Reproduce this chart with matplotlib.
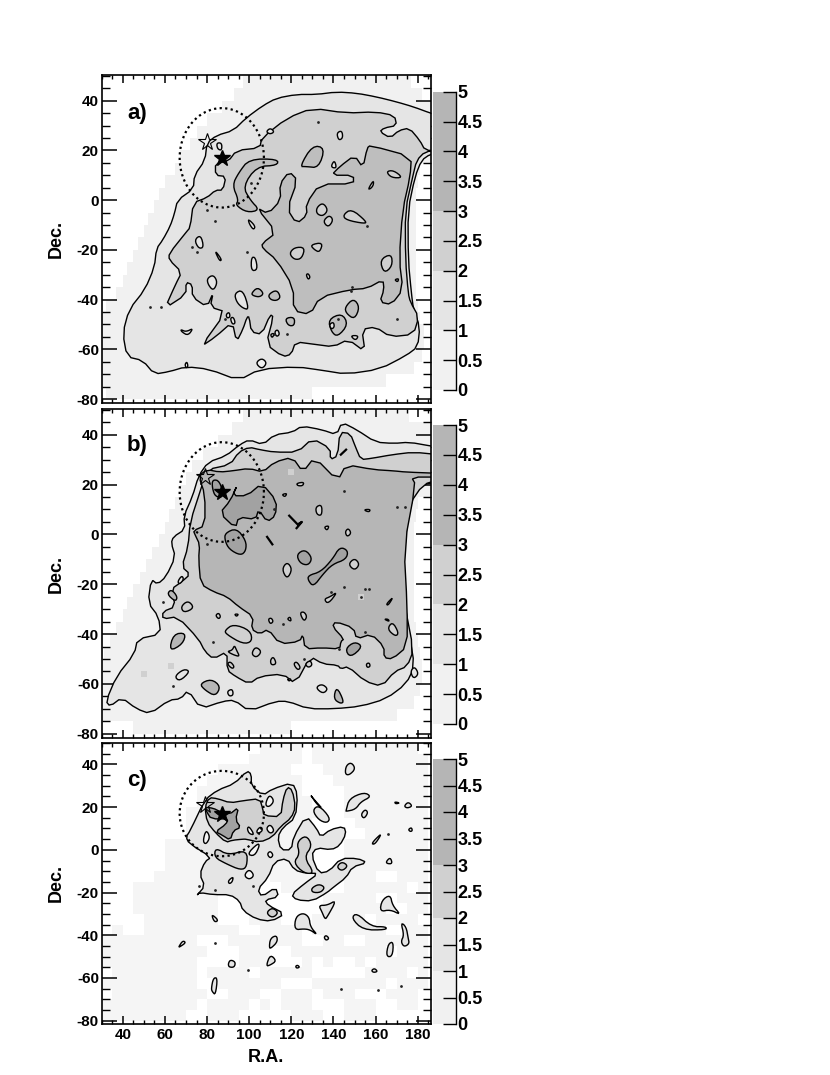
import numpy as np
import matplotlib
matplotlib.use('Agg')
import matplotlib.pyplot as plt
from matplotlib.ticker import MultipleLocator

plt.rcParams['font.family'] = ['Liberation Sans', 'DejaVu Sans']
plt.rcParams['font.weight'] = 'bold'
plt.rcParams['axes.unicode_minus'] = False

C0 = '#f1f1f1'
C0C = '#f5f5f5'
C1 = '#e5e5e5'
C2 = '#d0d0d0'
C3A = '#bebebe'
C3 = '#b6b6b6'
C4 = '#a2a2a2'

cbar_ticks = [0, 0.5, 1, 1.5, 2, 2.5, 3, 3.5, 4, 4.5, 5]
cbar_labels = ['0', '0.5', '1', '1.5', '2', '2.5', '3', '3.5', '4', '4.5', '5']
cbar_bands = [0, 1, 2, 3, 5]
cbar_colors = [C0, C1, C2, '#b5b5b5']

pale_dec = [47.5, 42.5, 37.5, 32.5, 27.5, 22.5, 17.5, 12.5, 7.5, 2.5, -2.5, -7.5, -12.5, -17.5,
            -22.5, -27.5, -32.5, -37.5, -42.5, -47.5, -52.5, -57.5, -62.5, -67.5, -72.5, -77.5]
pale_a_left = [97, 93, 87, 80, 75, 72, 67, 65, 60, 57, 55, 52, 50, 47, 45, 42, 40, 37, 32, 30, 30, 30, 30, 30, 30, 32]
pale_a_right = [177, 182, 186, 186, 186, 186, 186, 181, 180, 179, 179, 179, 179, 179, 179, 179, 179, 179, 180, 181, 183, 183, 182, 178, 165, 130]
pale_b_left = [97, 92, 85, 78, 73, 70, 67, 65, 62, 60, 57, 54, 51, 48, 45, 42, 40, 37, 34, 31, 30, 30, 30, 30, 30, 45]
pale_b_right = [176, 186, 186, 186, 186, 186, 186, 180, 179, 178, 178, 178, 178, 178, 178, 178, 178, 179, 180, 181, 182, 182, 181, 178, 170, 120]

# rows from dec 47.5 down, columns from ra 30 in 5 degree cells
pale_c = [
    "...............####.##########.",
    "..............#####.###########",
    "...........#######...##########",
    "..........#########...#########",
    ".........##########....########",
    ".........###########...########",
    "........#############..########",
    "........############....#######",
    "........############.....######",
    "......##############...########",
    "......#############....########",
    "......#######..####....########",
    ".....#########..#####..###..###",
    "...#########.....###...######.#",
    "...########..#.......#####..###",
    "...########...#......######..##",
    "....#######...###...#####.####.",
    ".#..#########..####.#######..##",
    "#########...#######..##..######",
    "##########...###..#########.###",
    "#########....###...#.#..#.#####",
    ".########.####.#####.....####.#",
    "#########..######...#######.###",
    ".#########..###..###.###...###.",
    "#########.####.#.###...###..##.",
    "########..###.....###..###.....",
]

letter_dec = [35, 35.5, 32.7]
circle_ra = 87
circle_dec = 17
circle_radius = 20
star_filled = (87, 17)
star_open_a = (80, 23.5)
star_open_b = (79, 23)
star_open_c = (79, 21)

# panel a contours
a_level1 = [(190, 34), (186, 35), (178, 37.5), (170, 39.5), (160.5, 41.5), (151, 43), (141.5, 43.5), (132, 42.5), (122.5, 42.5),
            (113, 41), (106.5, 38), (98.5, 33), (92.5, 28), (84.5, 26), (80, 23), (79, 16), (74, 10), (73.5, 4.5),
            (66, 0), (64.5, -5.5), (62.5, -10.5), (59, -16), (56, -19.5), (55, -27), (50.5, -36), (43, -44),
            (40, -53.5), (42, -63), (49.5, -64.5), (55, -70), (62, -69), (70, -67), (81, -68), (95, -72.5),
            (105, -68), (122.5, -67), (135, -68.5), (146, -70), (162, -68), (174.5, -62.5), (180, -59), (181, -51),
            (178, -44), (177, -37.5), (175.5, -24), (175.4, -4), (178.7, 9.4), (181.8, 16), (186, 18.5), (190, 18.7)]
a_level2 = [(190, 20), (183.5, 20), (181, 24), (176, 29), (171, 28), (167, 25), (162, 27.5), (164, 29), (170, 30),
            (169, 34), (160, 35.5), (146, 35), (130, 37), (118, 33), (106, 25), (105, 21), (94, 20), (90, 15.5),
            (84, 15), (84, 10), (89, 9.5), (87.5, 4), (84, 4), (80, 1), (73.5, -1), (72, -11), (70, -13), (62, -21.5),
            (62, -24), (68, -29), (65, -34), (60, -43.5), (70, -38), (70, -33), (73, -34), (73, -39), (80, -43),
            (83, -37), (81.5, -43), (89, -45), (77, -59), (84, -55), (92, -49), (94, -57), (97, -52), (99, -47),
            (100, -47), (101, -53), (106, -54), (110, -46), (111.5, -47), (108, -58), (116, -63), (120, -62),
            (122, -57), (131, -58), (140, -59), (147, -56), (155, -61), (153.5, -52), (160, -51), (167, -55),
            (178, -54), (180.5, -47), (176.5, -41), (175.5, -37.5), (174.2, -24), (174.1, -4), (177.6, 9.4), (179.5, 16), (183.5, 19.5)]
a_level3 = [[(177, 17.5), (157.5, 22), (156, 21), (154, 13), (150, 18), (143, 13.5), (139, 10), (149.5, 10), (149.5, 6.5),
             (133.5, 6.5), (127, -1.5), (127.5, -6), (122.5, -9.5), (118, -3.5), (123, 8), (119, 11.5), (114.5, 6.5),
             (115, 0), (109, -5.5), (103.5, -3), (113, -13), (106, -17.5), (106.5, -19.5), (113, -24), (121, -35),
             (121, -44.5), (129, -46), (133.5, -39), (148, -36), (156, -35.5), (163.5, -32), (164, -36), (162, -41),
             (167.5, -42), (173, -36), (171.2, -24), (172.8, -4), (176.4, 9.4)],
            [(113.5, 16.5), (100, 16.5), (95, 11), (92, 6), (95, 0), (93.5, -2), (99, -5), (105, -4), (100.5, 0),
             (97, 5.5), (103.5, 13.5), (113.5, 14)],
            [(124, 13.5), (130, 22), (136, 21), (133, 13), (127, 13.5)],
            [(101, -37.5), (104, -35), (107, -37.5), (105, -39), (102, -38.5)],
            [(109, -38), (113, -36), (115, -39), (113, -40.5), (110, -40)],
            [(117, -47.5), (121.5, -47), (121.5, -50.5), (118.5, -50.5)],
            [(145.5, -43), (149.5, -39.5), (152.5, -43), (150, -48), (146, -45.5)],
            [(137.5, -48), (144, -45.5), (147, -50), (142, -55), (139, -53)]]
a_holes3 = [[(162, -24), (167.5, -21.5), (168, -26.5), (164, -29.5)],
            [(132, -3), (135, -1), (137.5, -4), (135, -6.5), (132, -5.5)],
            [(135, -8.5), (138, -6), (140, -8), (137.5, -11)],
            [(144.5, -6), (148.5, -3.5), (155.5, -8.5), (155, -9.5), (146, -8)],
            [(119, -21.5), (121.5, -19), (126.5, -19), (125, -23.5), (121.5, -24)],
            [(129, -18), (135, -17), (133.5, -21), (131, -20)],
            [(165, 11.5), (168.5, 12), (173, 9), (167.5, 9)],
            [(156.5, 4.5), (159, 8), (159, 6), (157.5, 4.5)],
            [(127, -30), (128, -29.5), (129, -31), (128, -32)],
            [(169, -32), (171, -31.5), (170.5, -33)]]
a_holes2 = [[(108, 27.5), (110, 29), (112, 27.5), (110, 26.5)],
            [(141.5, 27), (144, 28), (144.5, 25), (142.5, 24)],
            [(80, -31.5), (83, -30), (85, -33), (83, -36.5), (80.5, -34)],
            [(93, -37.5), (97, -36), (100, -44), (97, -43.5), (94, -41)],
            [(101, -23), (103, -23), (104, -28), (101, -28.5)],
            [(74, -16), (77, -14), (78.5, -19), (76, -19.5)],
            [(84, -21), (84.5, -21), (87, -24), (86, -24.5)],
            [(99.5, -7.5), (103, -10.5), (102, -12), (100, -9.5)],
            [(67.5, -52), (70, -53), (73.5, -51.5), (71, -54.5), (68, -53)],
            [(89, -46), (90.5, -45), (91, -47), (89.5, -47.5)],
            [(91, -47.5), (92.5, -47), (93.5, -49.5), (92, -50)],
            [(84.5, 23), (87, 23), (87, 20), (85, 20.5)],
            [(139, 14), (140.5, 16), (141.5, 13), (139.5, 13)],
            [(148, -54.5), (152, -54.5), (150.5, -56.5)],
            [(112, -53), (113.5, -52), (114.5, -54), (113, -55)],
            [(110, -54), (112, -53.5), (111, -55.5)],
            [(138, -50), (140, -49), (140.5, -51), (139, -52)]]
a_holes1 = [[(103, -65.5), (106, -63.5), (108.5, -65.5), (106, -68)],
            [(69.5, -66), (70.5, -65), (71, -67), (70, -67.5)]]
a_dots = [(132.5, 31.5), (101, 7), (80, -4), (84, -8.5), (73, -19), (75, -21), (99, -21), (58, -43), (53, -43),
          (156, -10.5), (142, -48), (149, -35), (170, -48), (88.5, -48), (118, -54), (112, -54), (148.5, -36.5)]

# panel b contours
b_level1 = [(190, 35), (186, 35.5), (176, 37), (168.5, 36.5), (160, 37), (151, 42), (144, 45), (141.5, 40), (134.5, 42), (125, 43.5),
            (120.5, 41), (112, 40), (106.5, 36), (100, 38), (95.5, 36), (89, 31.5), (80.5, 29), (76, 23.5), (73, 15),
            (69, 7.5), (69.5, 2), (64, -1), (63, -3.5), (65, -9), (60.5, -17), (56.5, -20), (53.5, -18), (52, -27.5),
            (57, -33), (58, -40), (47, -42), (45.5, -48), (37, -57), (32, -67), (34, -69), (39.5, -65.5), (46.5, -70),
            (53, -72), (62, -66.5), (67.5, -66), (71, -62.5), (77, -70), (87.5, -67), (93, -66.5), (100, -71),
            (112.5, -67), (118.5, -67), (128, -70), (140.5, -70), (153, -69), (165, -66), (174.5, -60), (178.5, -53),
            (176, -40), (173, -29), (171, -18), (172, -4), (174.5, 13.5), (182, 20), (190, 21)]
b_level2 = [(190, 32), (178, 33), (168, 32), (158, 30.5), (153, 30), (150.5, 35), (148, 40.5), (143, 41), (142, 31.5),
            (138.5, 30), (138.5, 34.5), (130, 38.5), (123, 33), (112, 33), (105, 34), (100, 35), (95, 33), (91, 28),
            (80, 26), (77, 18), (72, 5), (71, -5), (68, -13), (72, -16), (68, -19), (63, -22), (65, -29), (59, -31),
            (59, -34), (66, -33), (76, -42), (79, -47), (83, -50), (89.5, -47), (89.5, -54.5), (93.5, -57), (100, -60),
            (105, -57), (116, -56), (122, -60), (129, -49), (135, -52), (142, -52.5), (143.5, -54), (147, -53),
            (155, -59), (163, -61), (169, -55), (175, -53), (178, -46.5), (174, -29), (172.5, -20), (174, -4), (176, 12),
            (182.5, 20), (190, 22)]
b_level3 = [(179, 20), (173.5, -5), (175, -29), (175, -45), (168, -50), (164, -49.5), (164, -45), (158, -40), (151, -42),
            (149.5, -37.5), (141, -35), (139.5, -37), (145, -42), (143.5, -43), (143, -46), (134.5, -45.5), (126.5, -46),
            (125.5, -40), (124, -43), (114.5, -44), (109, -38), (105, -40), (101, -38), (102, -33), (95, -29), (89.5, -25),
            (83, -23), (77, -20), (76, -10), (76.5, -4), (74.5, -0.5), (73.5, 1.5), (79, 3.5), (79, 16), (76, 23.5),
            (80, 26), (86, 25), (92, 25.5), (100, 26.5), (106.5, 25), (112, 29), (120.5, 31), (125.5, 25), (131, 31),
            (142, 21.5), (146, 28), (159, 26), (168.5, 25.5), (174.5, 25), (190, 24.5), (190, 23), (177, 23)]
b_level4 = [[(86, 8.5), (91, 13.5), (94.5, 20), (92, 15.5), (99, 15.5), (106, 20.5), (113, 13.5), (112.5, 7.5), (108.5, 5),
             (104.5, 10), (103, 6), (95, 7), (93.5, 2.5)],
            [(82.5, 22), (86, 21.5), (88, 15), (84, 15), (82.5, 18.5)],
            [(88.5, 0.5), (94, 2.5), (98.5, -2.5), (98.5, -6.5), (96, -8.5), (90.5, -6), (88.5, -2.5)],
            [(122.5, -8), (126.5, -6), (130, -9.5), (128, -12.5), (124, -11.5)],
            [(128, -16.5), (134, -15), (139.5, -10), (143, -5), (147, -6.5), (146, -10), (139.5, -12), (135, -16), (130.5, -21), (128, -18.5)],
            [(145.5, -46), (150, -43), (154, -45), (148, -49.5)]]
b_level3_extra = [[(62, -47), (64, -40), (70, -39.5), (68.5, -44)],
                  [(76.5, -60), (82, -58), (86.5, -61), (84, -65), (79, -62.5)],
                  [(140, -66), (141.5, -61), (145, -67), (143.5, -68)],
                  [(61, -24), (63, -22), (66, -25), (65, -27)]]
b_holes3 = [[(122.5, 20.5), (126, 21), (125.5, 19.5), (123, 19.5)],
            [(115.5, 16), (118, 16.5), (117, 15)],
            [(131.5, 11), (134.5, 12), (134.5, 7.5), (132, 8)],
            [(155, 10), (157.5, 10), (157, 9), (155, 9.5)],
            [(135.5, 3), (138, 3.5), (137, 1.5)],
            [(145.5, 1), (147, 2.5), (148.5, 0.5), (146.5, -1)],
            [(115.5, -14), (118, -11), (120.5, -14), (118, -18)],
            [(147, -12), (150, -9.5), (152.5, -12), (150, -14.5)],
            [(135.5, -26), (138.5, -25), (142, -23), (137.5, -28)],
            [(165, -28), (168.5, -25), (166, -28.5)],
            [(165.5, -38), (168, -35), (171, -39.5), (169.5, -41)],
            [(164, -34), (166, -34), (166.5, -35)],
            [(67.5, -29), (71, -26.5), (74, -29.5), (69, -31.5)],
            [(88.5, -38.5), (92.5, -36), (100.5, -38.5), (101.5, -43), (97, -44), (89, -40)],
            [(101, -48), (103, -45), (106, -47), (103.5, -49.5)],
            [(110, -50.5), (111.5, -49), (113, -52), (110.5, -52.5)],
            [(89.5, -52), (91, -51), (93, -53), (92, -54)],
            [(121, -52), (122.5, -51), (124.5, -53.5), (123, -54.5)],
            [(126.5, -52), (129, -50.5), (130, -52.5), (128, -53.5)],
            [(84, -32.5), (85.5, -31.5), (86.5, -33), (85.5, -34)],
            [(93, -32), (95, -32), (94, -33)],
            [(124, -31.5), (126, -31), (127.5, -33), (126, -35)],
            [(109, -34), (110.5, -33.5), (111.5, -35), (110, -36)],
            [(118, -34), (119.5, -33), (120, -35)],
            [(89.5, -47), (92, -46.5), (93, -44.5), (94, -46.5), (95.5, -49), (93, -48.5)],
            [(155.5, -52), (157, -51.5), (157.5, -53), (156, -53.5)]]
b_holes2 = [[(64.5, -57), (69, -54), (72, -55), (67, -59)],
            [(89.5, -63), (92, -62), (92.5, -64.5), (90.5, -65)],
            [(131.5, -61.5), (134.5, -60), (137.5, -62), (135, -64)],
            [(176.5, -55), (178.5, -53), (180.5, -56), (178, -58)],
            [(118, -58), (120, -58), (119, -59)],
            [(66, -19), (68, -16.5), (69, -18), (67, -20)]]
b_slashes = [[(119, 7.5), (123, 4), (125, 5), (122.5, 2.5)],
             [(108.5, -1), (111, -4)],
             [(143.5, 32), (146, 34)]]
b_dots = [(116, -36), (145, 17.5), (112, 10), (155, -39), (80, -4), (142.5, -46), (126, -50), (64, -61), (83, -43),
          (174, 11), (170, 11), (145, -21), (155, -22), (157, -22), (153, -25), (139, -23), (59, -27)]
b_grey_cells = [(50, -56), (63, -53), (75, -21), (120, 25), (153, -25), (83, -43)]

# panel c contours
c_level1 = [[(72, 9), (79, 23.5), (85, 28), (93, 31), (99, 37), (101, 35.5), (101, 30), (106.5, 25.5), (111, 28.5), (120.5, 31.5),
             (123, 26), (122, 15), (116, 10.5), (113.5, 6), (115, 0), (120, 0), (121, 6), (127, 16), (132, 10), (134, 6),
             (138.5, 9.5), (145, 11), (146, 7.5), (143, 2), (139, 0), (132, 1), (129.5, -2.5), (133, -11), (138, -10),
             (143.5, -4), (151.5, -4), (156, -6), (149, -8), (146, -13), (140, -17.5), (137, -20), (130, -24), (122.5, -23.5),
             (120, -21), (126, -16), (133, -11), (127, -11), (121.5, -9.5), (118, -4), (112, -5.5), (109, -13), (104, -18.5),
             (106, -22), (112.5, -17.5), (114, -22), (107.5, -23.5), (109, -26), (117, -30), (110.5, -33.5), (103.5, -32.5),
             (97, -28.5), (95.5, -24), (91, -21), (83, -21), (76.5, -20), (75, -21.5), (79, -17), (76.5, -11.5), (79, -5.5), (82, -3.5),
             (71.5, 3), (70, 6)],
            [(130, 18.5), (133, 21), (138.5, 15), (137, 12.5), (133, 14)],
            [(146, 39.5), (148.5, 41), (150.5, 38), (147.5, 35), (145.5, 35.5)],
            [(146, 18.5), (147.5, 24), (154.5, 27), (158, 25), (153, 22.5), (150.5, 19), (146, 18)],
            [(153, 16.5), (155, 19), (156.5, 17.5), (154.5, 14.5)],
            [(169, 22.5), (171.5, 22), (169.5, 21.5)],
            [(173.5, 20.5), (175.5, 22.5), (177.5, 20.5), (175, 19.5)],
            [(175.5, 9.5), (177, 10.5), (177.5, 9), (176.5, 8.5)],
            [(158, 3), (162.5, 7.5), (162, 6), (159.5, 2.5)],
            [(165, -5.5), (167, -3.5), (168, -6.5), (165.5, -6.5)],
            [(162, -29), (163, -23.5), (167, -21), (168, -26), (172, -30.5), (167, -28)],
            [(148.5, -32), (151, -29.5), (158, -36), (165, -36), (165, -37.5), (154, -37.5)],
            [(133, -26), (137, -26), (141.5, -23.5), (137, -31.5), (136, -32.5), (134.5, -29)],
            [(121.5, -37.5), (122, -31.5), (125.5, -29.5), (128.5, -31.5), (129, -36), (132.5, -40), (129, -37.5), (126, -37)],
            [(135.5, -41), (136.5, -40), (138, -41.5), (136.5, -42.5)],
            [(109.5, -46), (110, -41.5), (113, -40), (113.5, -43), (110.5, -46)],
            [(108, -54.5), (110, -49), (113, -52), (110, -54)],
            [(90, -53.5), (91, -51.5), (93.5, -52.5), (93, -55), (90.5, -55)],
            [(66.5, -45.5), (68.5, -42.5), (70, -43.5), (67, -45.5)],
            [(82, -30), (85.5, -33), (83.5, -34)],
            [(122, -54.5), (123, -54), (124, -55), (122.5, -55.5)],
            [(158, -56.5), (159.5, -55.5), (161, -57), (159, -57.5)],
            [(82, -65), (83, -60), (85, -60), (84, -68), (82.5, -66.5)],
            [(165, -50), (166, -44), (168.5, -43), (168, -50)],
            [(172, -34), (174.5, -36), (175.5, -41.5), (176, -44), (173.5, -45.5), (172, -43), (173.5, -40)],
            [(129, 26), (130, 24.5), (135, 19), (132, 21.5)]]
c_level2 = [[(79, 20), (81, 24.5), (85, 24), (91, 22), (97, 23), (105, 24), (106.5, 19), (107, 16), (115, 15.5), (116, 23.5),
             (118, 29.5), (120.5, 28), (122, 20), (120, 15), (115, 11), (111, 6), (105, 3.5), (98.5, 5), (97, 5), (92, 4.5), (89, 3.5),
             (84, 8), (80, 13)],
            [(84, 1), (90, -2.5), (99, 0), (99, -8), (96, -9.5), (89, -6.5), (83.5, -3.5)],
            [(122.5, 3.5), (127, 7), (130, 2), (126, -3.5), (131, -11), (126, -11), (121, -6), (124, -2)],
            [(129.5, -18), (133, -16), (136, -17.5), (134, -20), (130, -20)],
            [(108, -29.5), (111, -27), (114, -29.5), (111, -32)],
            [(141.5, -8), (144, -5.5), (147, -7.5), (144, -10)]]
c_level3 = [[(79, 20), (83, 19.5), (86, 18), (90.5, 16.5), (95, 20), (93.5, 14), (96, 10.5), (92.5, 9), (91, 4.5), (87, 7), (84, 8.5), (89, 12), (90, 14.5), (82, 14.5), (80, 17.5)]]
c_holes = [[(78, 4), (79.5, 9.5), (81.5, 6), (79.5, 2.5)],
           [(107.5, 21), (109.5, 26), (112, 23), (109.5, 20)],
           [(99, -2), (104, 3), (105, 2), (102.5, -3)],
           [(97.5, -12), (100, -9), (102.5, -12), (100, -14)],
           [(90, -14.5), (92.5, -12.5), (92, -15), (90.5, -16)],
           [(108.5, -2), (110, -0.5), (111.5, -2.5), (110, -4)],
           [(99, 10), (100, 11), (102.5, 7), (100, 7.5)],
           [(103.5, 9), (105.5, 11), (106.5, 9), (104, 7.5)],
           [(108, 10), (110, 12), (112, 9), (110, 7.5)]]
c_dots = [(84, -43.5), (99.5, -56.5), (143.5, -65), (161, -65.5), (172, -64), (166, 7.5), (76, -17), (102, -17), (84, -19)]


def rounded(pts):
    # corner cutting so the outlines look like contours, less on the long ones
    passes = 1 if len(pts) > 12 else 2
    pts = np.array(pts, dtype=float)
    for i in range(passes):
        nxt = np.roll(pts, -1, axis=0)
        q = 0.75 * pts + 0.25 * nxt
        r = 0.25 * pts + 0.75 * nxt
        pts = np.column_stack([q, r]).reshape(-1, 2)
    return pts


def draw_poly(ax, pts, color, lw=1.0):
    p = rounded(pts)
    ax.fill(p[:, 0], p[:, 1], facecolor=color, edgecolor='black', linewidth=lw, zorder=3)


def draw_dots(ax, pts):
    ax.scatter([p[0] for p in pts], [p[1] for p in pts], s=4, color='#222222', linewidths=0, zorder=6)


def setup_axes(ax, letter, y_letter, show_x):
    ax.set_xlim(30, 186.3)
    ax.set_ylim(-81.6, 50.2)
    ax.xaxis.set_major_locator(MultipleLocator(20))
    ax.xaxis.set_minor_locator(MultipleLocator(5))
    ax.yaxis.set_major_locator(MultipleLocator(20))
    ax.yaxis.set_minor_locator(MultipleLocator(5))
    ax.tick_params(axis='x', which='major', direction='in', top=True, bottom=True, length=6, width=1.1, labelsize=11, pad=3, labelbottom=show_x)
    ax.tick_params(axis='x', which='minor', direction='in', top=True, bottom=True, length=3, width=1.0)
    ax.tick_params(axis='y', which='major', direction='in', left=True, right=True, length=11, width=1.1, labelsize=11, pad=2)
    ax.tick_params(axis='y', which='minor', direction='in', left=True, right=True, length=5.5, width=1.0)
    for s in ax.spines.values():
        s.set_linewidth(1.2)
        s.set_zorder(10)
    ax.set_axisbelow(False)
    ax.text(42, y_letter, letter, fontsize=16, fontweight='bold', zorder=8, va='center')
    ax.set_ylabel('Dec.', fontsize=13, fontweight='bold', labelpad=9)


def draw_pale_rows(ax, left, right):
    widths = [r - l for l, r in zip(left, right)]
    ax.barh(pale_dec, widths, left=left, height=5, color=C0, linewidth=0, zorder=1)


def draw_common(ax, open_star):
    t = np.linspace(0, 2 * np.pi, 160)
    ax.plot(circle_ra + circle_radius * np.cos(t), circle_dec + circle_radius * np.sin(t),
            color='black', linestyle=(0, (1, 1.5)), linewidth=1.6, zorder=7)
    ax.plot([star_filled[0]], [star_filled[1]], marker='*', markersize=12, color='black', linestyle='none', zorder=9)
    ax.plot([open_star[0]], [open_star[1]], marker='*', markersize=13, markerfacecolor='none', markeredgecolor='black',
            markeredgewidth=0.8, linestyle='none', zorder=9)


def colorbar(fig, px_top, px_bottom):
    cax = fig.add_axes([432.7 / 830, 1 - px_bottom / 1075, (456 - 432.7) / 830, (px_bottom - px_top) / 1075])
    for i, col in enumerate(cbar_colors):
        cax.barh(cbar_bands[i], 1, height=cbar_bands[i + 1] - cbar_bands[i], align='edge', color=col, linewidth=0)
    cax.set_xlim(0, 1)
    cax.set_ylim(0, 5)
    cax.set_xticks([])
    cax.set_yticks(cbar_ticks)
    cax.set_yticklabels(cbar_labels, fontsize=13, fontweight='bold')
    cax.yaxis.tick_right()
    cax.tick_params(axis='y', direction='in', length=9.5, width=1.0, pad=1)
    for name, s in cax.spines.items():
        s.set_visible(name == 'right')
    cax.spines['right'].set_linewidth(1.0)


def panel_axes(fig, px_top, px_bottom):
    return fig.add_axes([101.7 / 830, 1 - px_bottom / 1075, (431 - 101.7) / 830, (px_bottom - px_top) / 1075])


fig = plt.figure(figsize=(8.3, 10.75), dpi=100)

# a)
ax = panel_axes(fig, 75.3, 403)
setup_axes(ax, 'a)', letter_dec[0], False)
draw_pale_rows(ax, pale_a_left, pale_a_right)
draw_poly(ax, a_level1, C1)
draw_poly(ax, a_level2, C2)
for p in a_level3:
    draw_poly(ax, p, C3A)
for p in a_holes3:
    draw_poly(ax, p, C2)
for p in a_holes2:
    draw_poly(ax, p, C1)
for p in a_holes1:
    draw_poly(ax, p, C0)
draw_dots(ax, a_dots)
draw_common(ax, star_open_a)
colorbar(fig, 91.7, 390)

# b)
ax = panel_axes(fig, 409.3, 737.7)
setup_axes(ax, 'b)', letter_dec[1], False)
draw_pale_rows(ax, pale_b_left, pale_b_right)
draw_poly(ax, b_level1, C1)
draw_poly(ax, b_level2, C2)
draw_poly(ax, b_level3, C3)
for p in b_level3_extra:
    draw_poly(ax, p, C3)
for p in b_level4:
    draw_poly(ax, p, C4)
for p in b_holes3:
    draw_poly(ax, p, C2)
for p in b_holes2:
    draw_poly(ax, p, C1)
for p in b_slashes:
    ax.plot([q[0] for q in p], [q[1] for q in p], color='black', linewidth=1.6, zorder=4)
ax.scatter([p[0] for p in b_grey_cells], [p[1] for p in b_grey_cells], s=14, marker='s', color=C2, linewidths=0, zorder=3.5)
draw_dots(ax, b_dots)
draw_common(ax, star_open_b)
colorbar(fig, 425, 724)

# c)
ax = panel_axes(fig, 742.7, 1024)
setup_axes(ax, 'c)', letter_dec[2], True)
ax.set_xlabel('R.A.', fontsize=13, fontweight='bold', labelpad=5)
mask = np.array([[1.0 if ch == '#' else np.nan for ch in row] for row in pale_c])
ra_edges = np.arange(30, 30 + 5 * mask.shape[1] + 1, 5)
dec_edges = np.arange(50, 50 - 5 * mask.shape[0] - 1, -5)
ax.pcolormesh(ra_edges, dec_edges, mask, cmap=matplotlib.colors.ListedColormap([C0C]), shading='flat', zorder=1)
for p in c_level1:
    draw_poly(ax, p, C1)
for p in c_level2:
    draw_poly(ax, p, C2)
for p in c_level3:
    draw_poly(ax, p, C4)
for p in c_holes:
    draw_poly(ax, p, C0C)
draw_dots(ax, c_dots)
draw_common(ax, star_open_c)
colorbar(fig, 759, 1024)

fig.savefig('out.png', dpi=100)
